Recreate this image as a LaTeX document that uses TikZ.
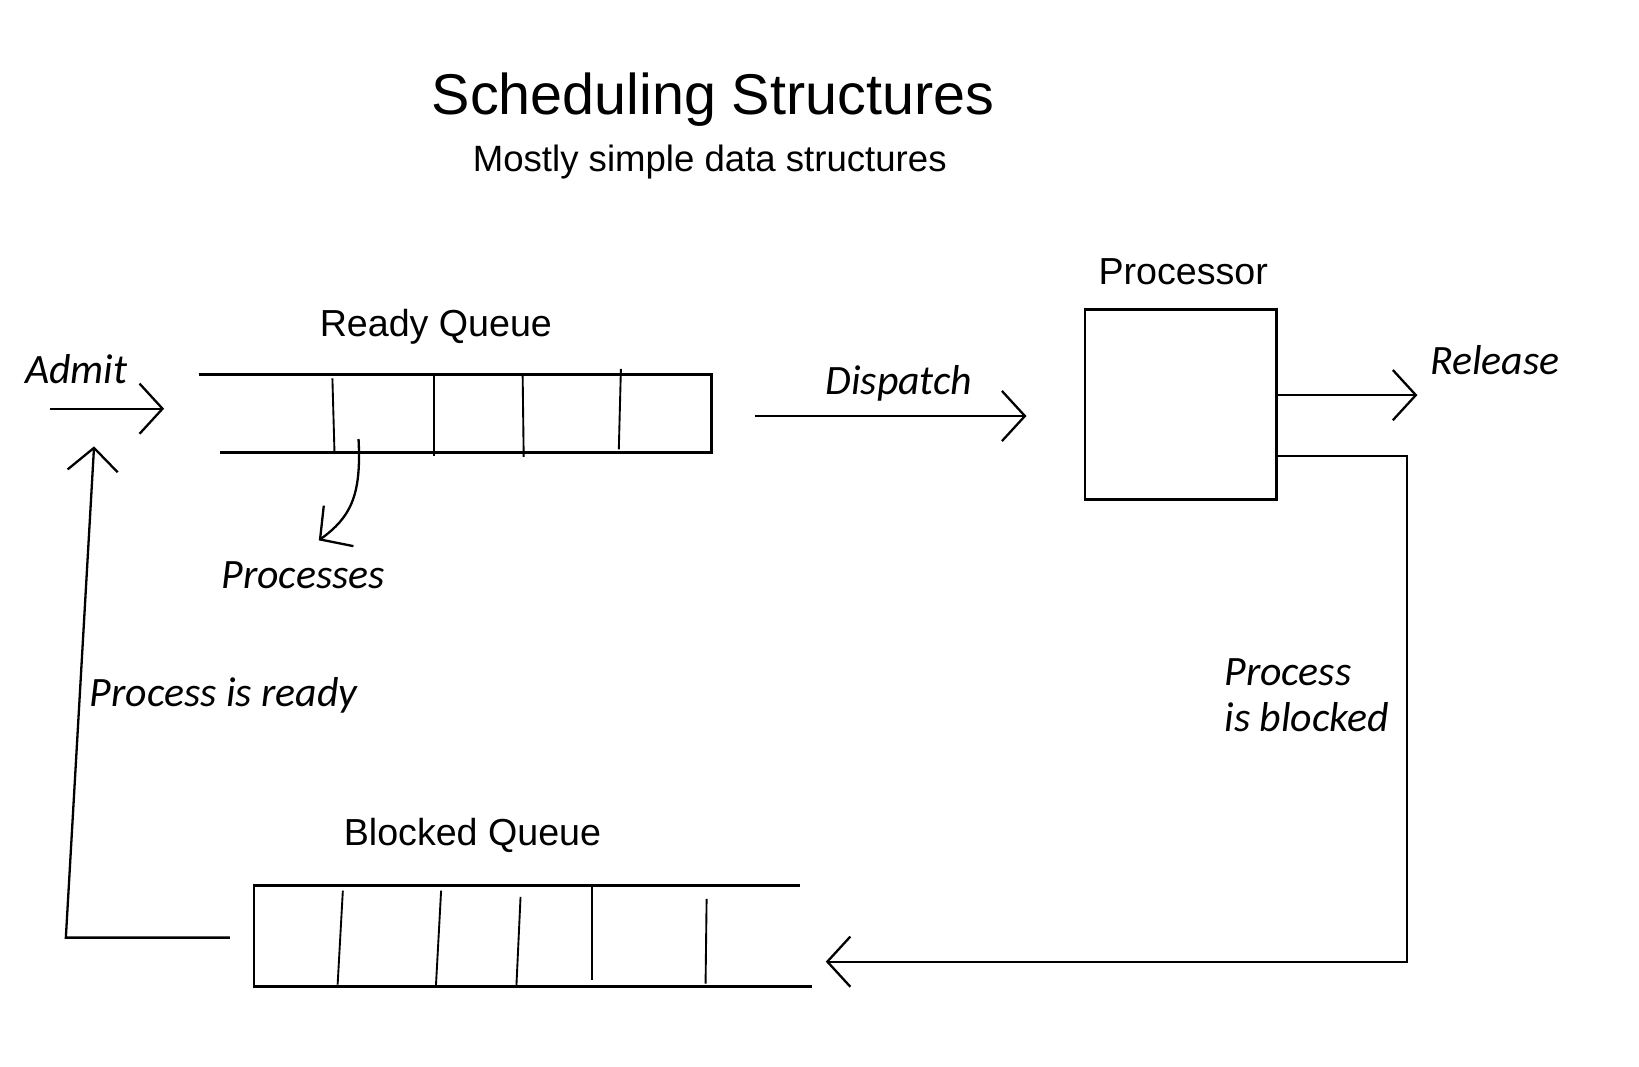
\documentclass[tikz,border=0pt]{standalone}
\usepackage{fontspec}
\setmainfont{Liberation Sans}
\newfontfamily\handfont{Carlito}
\usetikzlibrary{arrows.meta}
\tikzset{
  arr/.style={-{Straight Barb[length=11pt,width=24pt,line width=1.1pt]},line width=1.1pt},
  hand/.style={font=\handfont\itshape\fontsize{20}{22}\selectfont},
  lbl/.style={font=\fontsize{18}{20}\selectfont},
  qline/.style={line width=1.4pt},
  slotline/.style={line width=0.9pt}
}

\begin{document}
\begin{tikzpicture}[x=0.5pt,y=-0.5pt]
\useasboundingbox (0,0) rectangle (1568,1020);

\node[font=\fontsize{27.5}{30}\selectfont] (title) at (682,95) {Scheduling Structures};
\node[font=\fontsize{17.5}{20}\selectfont] (subtitle) at (679,155) {Mostly simple data structures};

\node[lbl] (readylbl) at (417,313) {Ready Queue};
\node[lbl] (cpulbl) at (1132,260) {Processor};
\node[lbl] (blockedlbl) at (452,799) {Blocked Queue};

\draw[qline] (190,358) -- (681,358) -- (681,433) -- (210,433);
\foreach \a/\b/\c/\d in {318/362/320/433,415/358/415/436,500/358/501/437,594/353/592/430}{
\draw[slotline] (\a,\b) -- (\c,\d);
}
\draw[qline] (765,847) -- (243,847) -- (243,944) -- (777,944);
\foreach \a/\b/\c/\d in {328/852/323/942,422/852/417/944,498/858/494/944,566/847/566/938,676/860/675/941}{
\draw[slotline] (\a,\b) -- (\c,\d);
}

\node[draw,qline,minimum width=91.5pt,minimum height=91pt,inner sep=0pt] (cpu) at (1129.5,387) {};

\coordinate (adin) at (48,391);
\coordinate (rqin) at (157,391);
\coordinate (rqout) at (722,398);
\coordinate (dsp) at (982,398);
\coordinate (rel) at (1356,378);
\coordinate (turn) at (1346,436);
\coordinate (bqin) at (790,920);
\coordinate (bqout) at (220,897);
\coordinate (corner) at (63,897);
\coordinate (back) at (90,427);
\coordinate (slot) at (343,420);
\coordinate (procs) at (305,517);

\draw[arr] (adin) -- (rqin);
\draw[arr] (rqout) -- (dsp);
\draw[arr] (cpu.east |- rel) -- (rel);
\draw[arr] (cpu.east |- turn) -- (turn) |- (bqin);
\draw[arr] (bqout) -- (corner) -- (back);
\draw[arr] (slot) .. controls (346,475) and (335,495) .. (procs);

\node[hand] (admit) at (73,353) {Admit};
\node[hand] (dispatch) at (860,367) {Dispatch};
\node[hand] (release) at (1430,345) {Release};
\node[hand] (procslbl) at (290,550) {Processes};
\node[hand] (readytxt) at (214,665) {Process is ready};
\node[hand,align=left] (blockedtxt) at (1250,665) {Process\\is blocked};
\end{tikzpicture}
\end{document}
